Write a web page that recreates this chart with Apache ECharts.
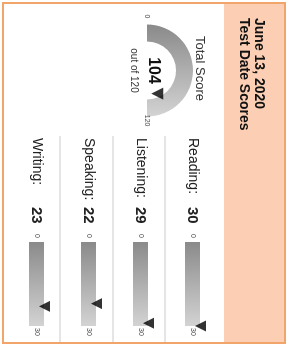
<!DOCTYPE html>
<html>
<head>
<meta charset="utf-8">
<script src="https://cdn.jsdelivr.net/npm/echarts@6/dist/echarts.min.js"></script>
<style>
  html, body { margin: 0; padding: 0; width: 287px; height: 345px; overflow: hidden; background: #fff; }
  /* the card is drawn landscape and turned a quarter clockwise */
  #chart { position: absolute; left: 0; top: 0; width: 345px; height: 287px;
    transform-origin: 0 0; transform: translate(287px, 0) rotate(90deg); }
</style>
</head>
<body>
<div id="chart"></div>
<script>
const testDate = 'June 13, 2020'
const totalScore = 104
const totalTicks = [0, 120]
const sections = ['Reading:', 'Listening:', 'Speaking:', 'Writing:']
const sectionScores = [30, 29, 22, 23]
const sectionTicks = [0, 30]

const font = 'Liberation Sans, Arial, Helvetica, sans-serif'
const barTops = [87, 139, 191, 243]
const gaugeCenter = [70.5, 140]

const grayFill = () => new echarts.graphic.LinearGradient(0, 0, 1, 0, [
  { offset: 0, color: '#8a8a8a' },
  { offset: 1, color: '#d3d3d3' }
])

const chart = echarts.init(document.getElementById('chart'), null, { renderer: 'canvas' })

const series = [
  {
    type: 'gauge',
    center: gaugeCenter,
    radius: 46,
    startAngle: 180,
    endAngle: 0,
    min: totalTicks[0],
    max: totalTicks[1],
    splitNumber: 1,
    axisLine: { lineStyle: { width: 17, color: [[1, grayFill()]] } },
    axisTick: { show: false },
    splitLine: { show: false, length: 0 },
    axisLabel: { distance: -20, fontSize: 7, color: '#444', fontFamily: font },
    pointer: { show: false },
    anchor: { show: false },
    title: { offsetCenter: [-2, -53], fontSize: 13, color: '#333', fontFamily: font },
    detail: {
      offsetCenter: [0, 3.5],
      formatter: v => '{v|' + v + '}\n{s|out of ' + totalTicks[1] + '}',
      rich: {
        v: { fontSize: 16, fontWeight: 'bold', color: '#111', lineHeight: 20, fontFamily: font },
        s: { fontSize: 10, fontWeight: 'normal', color: '#333', lineHeight: 19, fontFamily: font }
      }
    },
    data: [{ value: totalScore, name: 'Total Score' }]
  },
  {
    type: 'scatter',
    coordinateSystem: 'polar',
    symbol: 'triangle',
    symbolSize: [12, 12],
    symbolRotate: 180,
    itemStyle: { color: '#000' },
    clip: false,
    data: [[0.55, totalScore]]
  }
]

sections.forEach((name, i) => {
  series.push({
    type: 'bar',
    xAxisIndex: i,
    yAxisIndex: i,
    barWidth: '100%',
    silent: true,
    itemStyle: { color: grayFill() },
    data: [sectionTicks[1]]
  })
  series.push({
    type: 'scatter',
    xAxisIndex: i,
    yAxisIndex: i,
    symbol: 'triangle',
    symbolSize: [11, 11],
    symbolRotate: 180,
    symbolOffset: [0, -8],
    clip: false,
    itemStyle: { color: '#000' },
    data: [[sectionScores[i], 0]]
  })
})

chart.setOption({
  animation: false,
  textStyle: { fontFamily: font },
  title: {
    text: testDate + '\nTest Date Scores',
    left: 18,
    top: 21,
    padding: 0,
    textStyle: { fontSize: 14, fontWeight: 'bold', color: '#111', lineHeight: 15, fontFamily: font }
  },
  graphic: [
    { type: 'rect', z: -10, shape: { x: 3, y: 3, width: 340, height: 60 }, style: { fill: '#fccfb4' } },
    { type: 'rect', shape: { x: 3, y: 2, width: 340, height: 282 }, style: { fill: 'none', stroke: '#f1a56b', lineWidth: 2 } },
    { type: 'line', shape: { x1: 136, y1: 122, x2: 342, y2: 122 }, style: { stroke: '#dcdcdc', lineWidth: 1.5 } },
    { type: 'line', shape: { x1: 136, y1: 174, x2: 342, y2: 174 }, style: { stroke: '#dcdcdc', lineWidth: 1.5 } },
    { type: 'line', shape: { x1: 136, y1: 227, x2: 342, y2: 227 }, style: { stroke: '#dcdcdc', lineWidth: 1.5 } }
  ],
  polar: { center: gaugeCenter, radius: 46 },
  angleAxis: { type: 'value', min: 0, max: totalTicks[1] * 2, startAngle: 180, clockwise: true, show: false },
  radiusAxis: { type: 'value', min: 0, max: 1, show: false },
  grid: sections.map((s, i) => ({ left: 242, width: 84, top: barTops[i], height: 15, outerBoundsMode: 'none' })),
  xAxis: sections.map((s, i) => ({
    gridIndex: i,
    type: 'value',
    min: sectionTicks[0],
    max: sectionTicks[1],
    interval: sectionTicks[1] - sectionTicks[0],
    offset: -7.5,
    axisLine: { show: false },
    axisTick: { show: false },
    splitLine: { show: false },
    axisLabel: {
      margin: 0,
      verticalAlign: 'middle',
      alignMinLabel: 'right',
      alignMaxLabel: 'left',
      showMinLabel: true,
      showMaxLabel: true,
      padding: [0, 4, 0, 2],
      fontSize: 7,
      color: '#444'
    }
  })),
  yAxis: sections.map((s, i) => ({
    gridIndex: i,
    type: 'category',
    data: [s],
    axisLine: { show: false },
    axisTick: { show: false },
    axisLabel: {
      align: 'left',
      margin: 104,
      formatter: v => '{n|' + v + '}{s|' + sectionScores[i] + '}',
      rich: {
        n: { fontSize: 14, color: '#222', width: 69, fontFamily: font },
        s: { fontSize: 15, fontWeight: 'bold', color: '#222', fontFamily: font }
      }
    }
  })),
  series
})
</script>
</body>
</html>
